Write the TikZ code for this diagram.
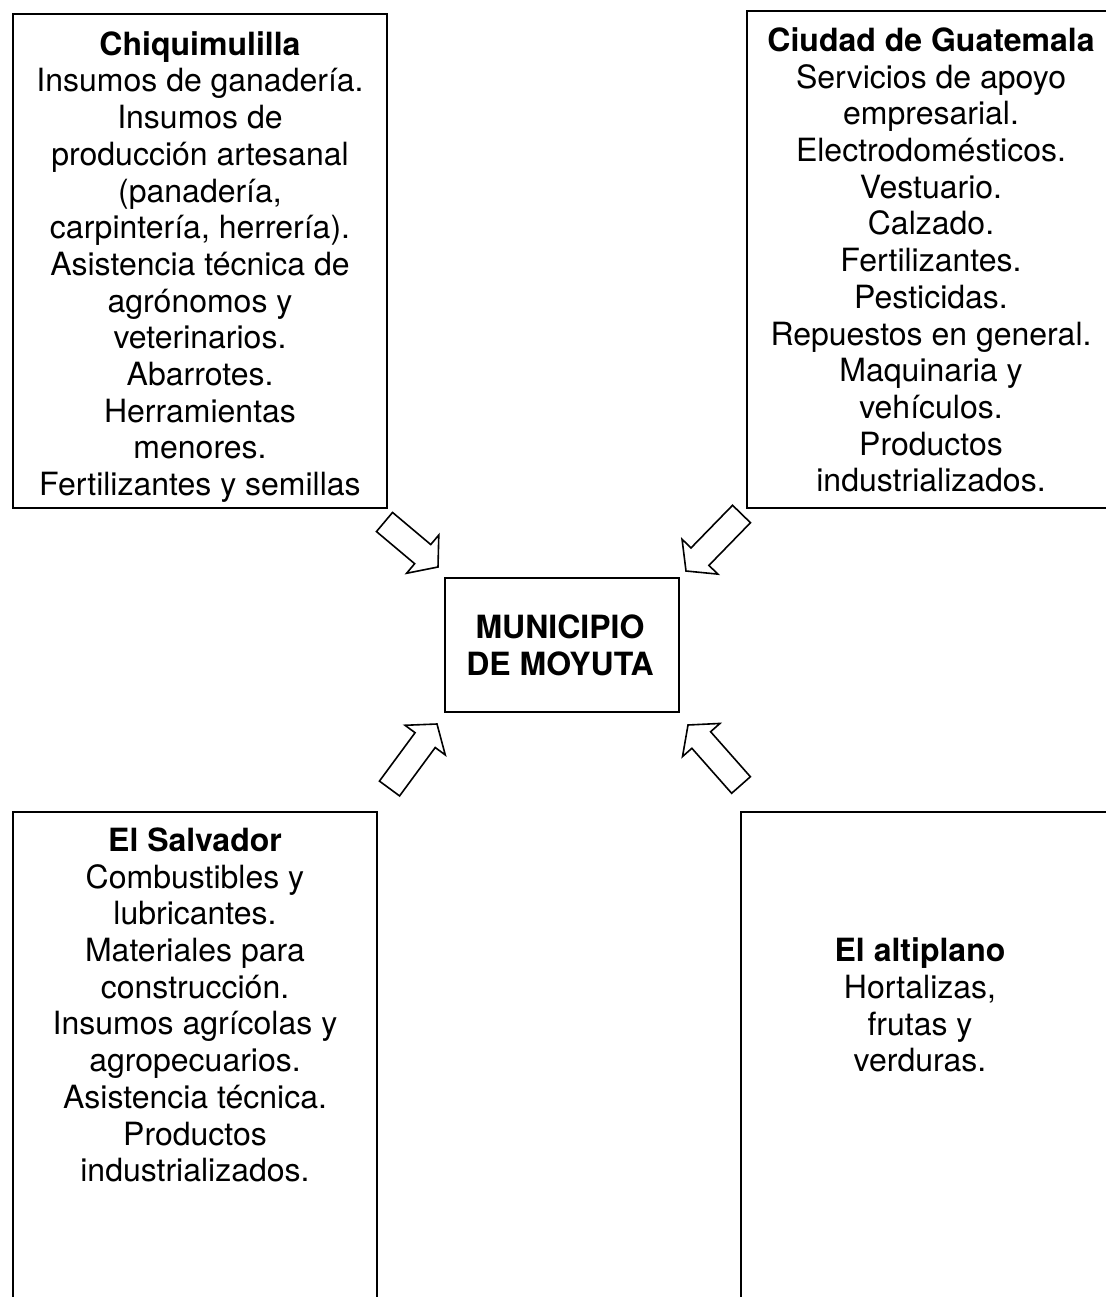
\documentclass[tikz,border=0pt]{standalone}
\usepackage{fontspec}
\setmainfont{TeX Gyre Heros}
\usetikzlibrary{calc}
\tikzset{
  box/.style={draw, line width=1.6pt, inner sep=0pt, rectangle},
  txt/.style={align=center, inner sep=0pt, font=\fontsize{32}{36.7}\selectfont},
  blk/.style={draw, line width=1.6pt, fill=white, line join=miter}
}
\newcommand\blockarr[3]{%
  \coordinate (#3) at ($(#2)!20pt!(#1)$);
  \draw[blk] ($(#1)!12.5pt!90:(#2)$) -- ($(#3)!12.5pt!90:(#2)$) -- ($(#3)!25pt!90:(#2)$) -- (#2)
    -- ($(#3)!25pt!-90:(#2)$) -- ($(#3)!12.5pt!-90:(#2)$) -- ($(#1)!12.5pt!-90:(#2)$) -- cycle;
}
\begin{document}
\begin{tikzpicture}[x=1pt,y=-1pt]
\useasboundingbox[fill=white] (0,0) rectangle (1105,1297);
% boxes
\node[box, minimum width=374pt, minimum height=494pt] (chq) at (200,261) {};
\node[box, minimum width=370pt, minimum height=497pt] (gua) at (932,259.5) {};
\node[box, minimum width=234pt, minimum height=134pt] (mun) at (562,645) {};
\node[box, minimum width=364pt, minimum height=498pt] (sal) at (195,1061) {};
\node[box, minimum width=369pt, minimum height=498pt] (alt) at (925.5,1061) {};
% texts
\node[txt] (chqt) at (200,267) {\textbf{Chiquimulilla}\\Insumos de ganadería.\\Insumos de\\producción artesanal\\(panadería,\\carpintería, herrería).\\Asistencia técnica de\\agrónomos y\\veterinarios.\\Abarrotes.\\Herramientas\\menores.\\Fertilizantes y semillas};
\node[txt] (guat) at (931,260) {\textbf{Ciudad de Guatemala}\\Servicios de apoyo\\empresarial.\\Electrodomésticos.\\Vestuario.\\Calzado.\\Fertilizantes.\\Pesticidas.\\Repuestos en general.\\Maquinaria y\\vehículos.\\Productos\\industrializados.};
\node[txt] (munt) at (560,645) {\textbf{MUNICIPIO}\\\textbf{DE MOYUTA}};
\node[txt] (salt) at (195,1005) {\textbf{El Salvador}\\Combustibles y\\lubricantes.\\Materiales para\\construcción.\\Insumos agrícolas y\\agropecuarios.\\Asistencia técnica.\\Productos\\industrializados.};
\node[txt] (altt) at (920,1005) {\textbf{El altiplano}\\Hortalizas,\\frutas y\\verduras.};
% arrows
\coordinate (a1t) at (384.5,522); \coordinate (a1p) at (438,567);
\coordinate (a2t) at (741.5,514); \coordinate (a2p) at (686,571);
\coordinate (a3t) at (389.5,788.5); \coordinate (a3p) at (437,724);
\coordinate (a4t) at (741,785); \coordinate (a4p) at (688,725);
\blockarr{a1t}{a1p}{a1h}
\blockarr{a2t}{a2p}{a2h}
\blockarr{a3t}{a3p}{a3h}
\blockarr{a4t}{a4p}{a4h}
\end{tikzpicture}
\end{document}
